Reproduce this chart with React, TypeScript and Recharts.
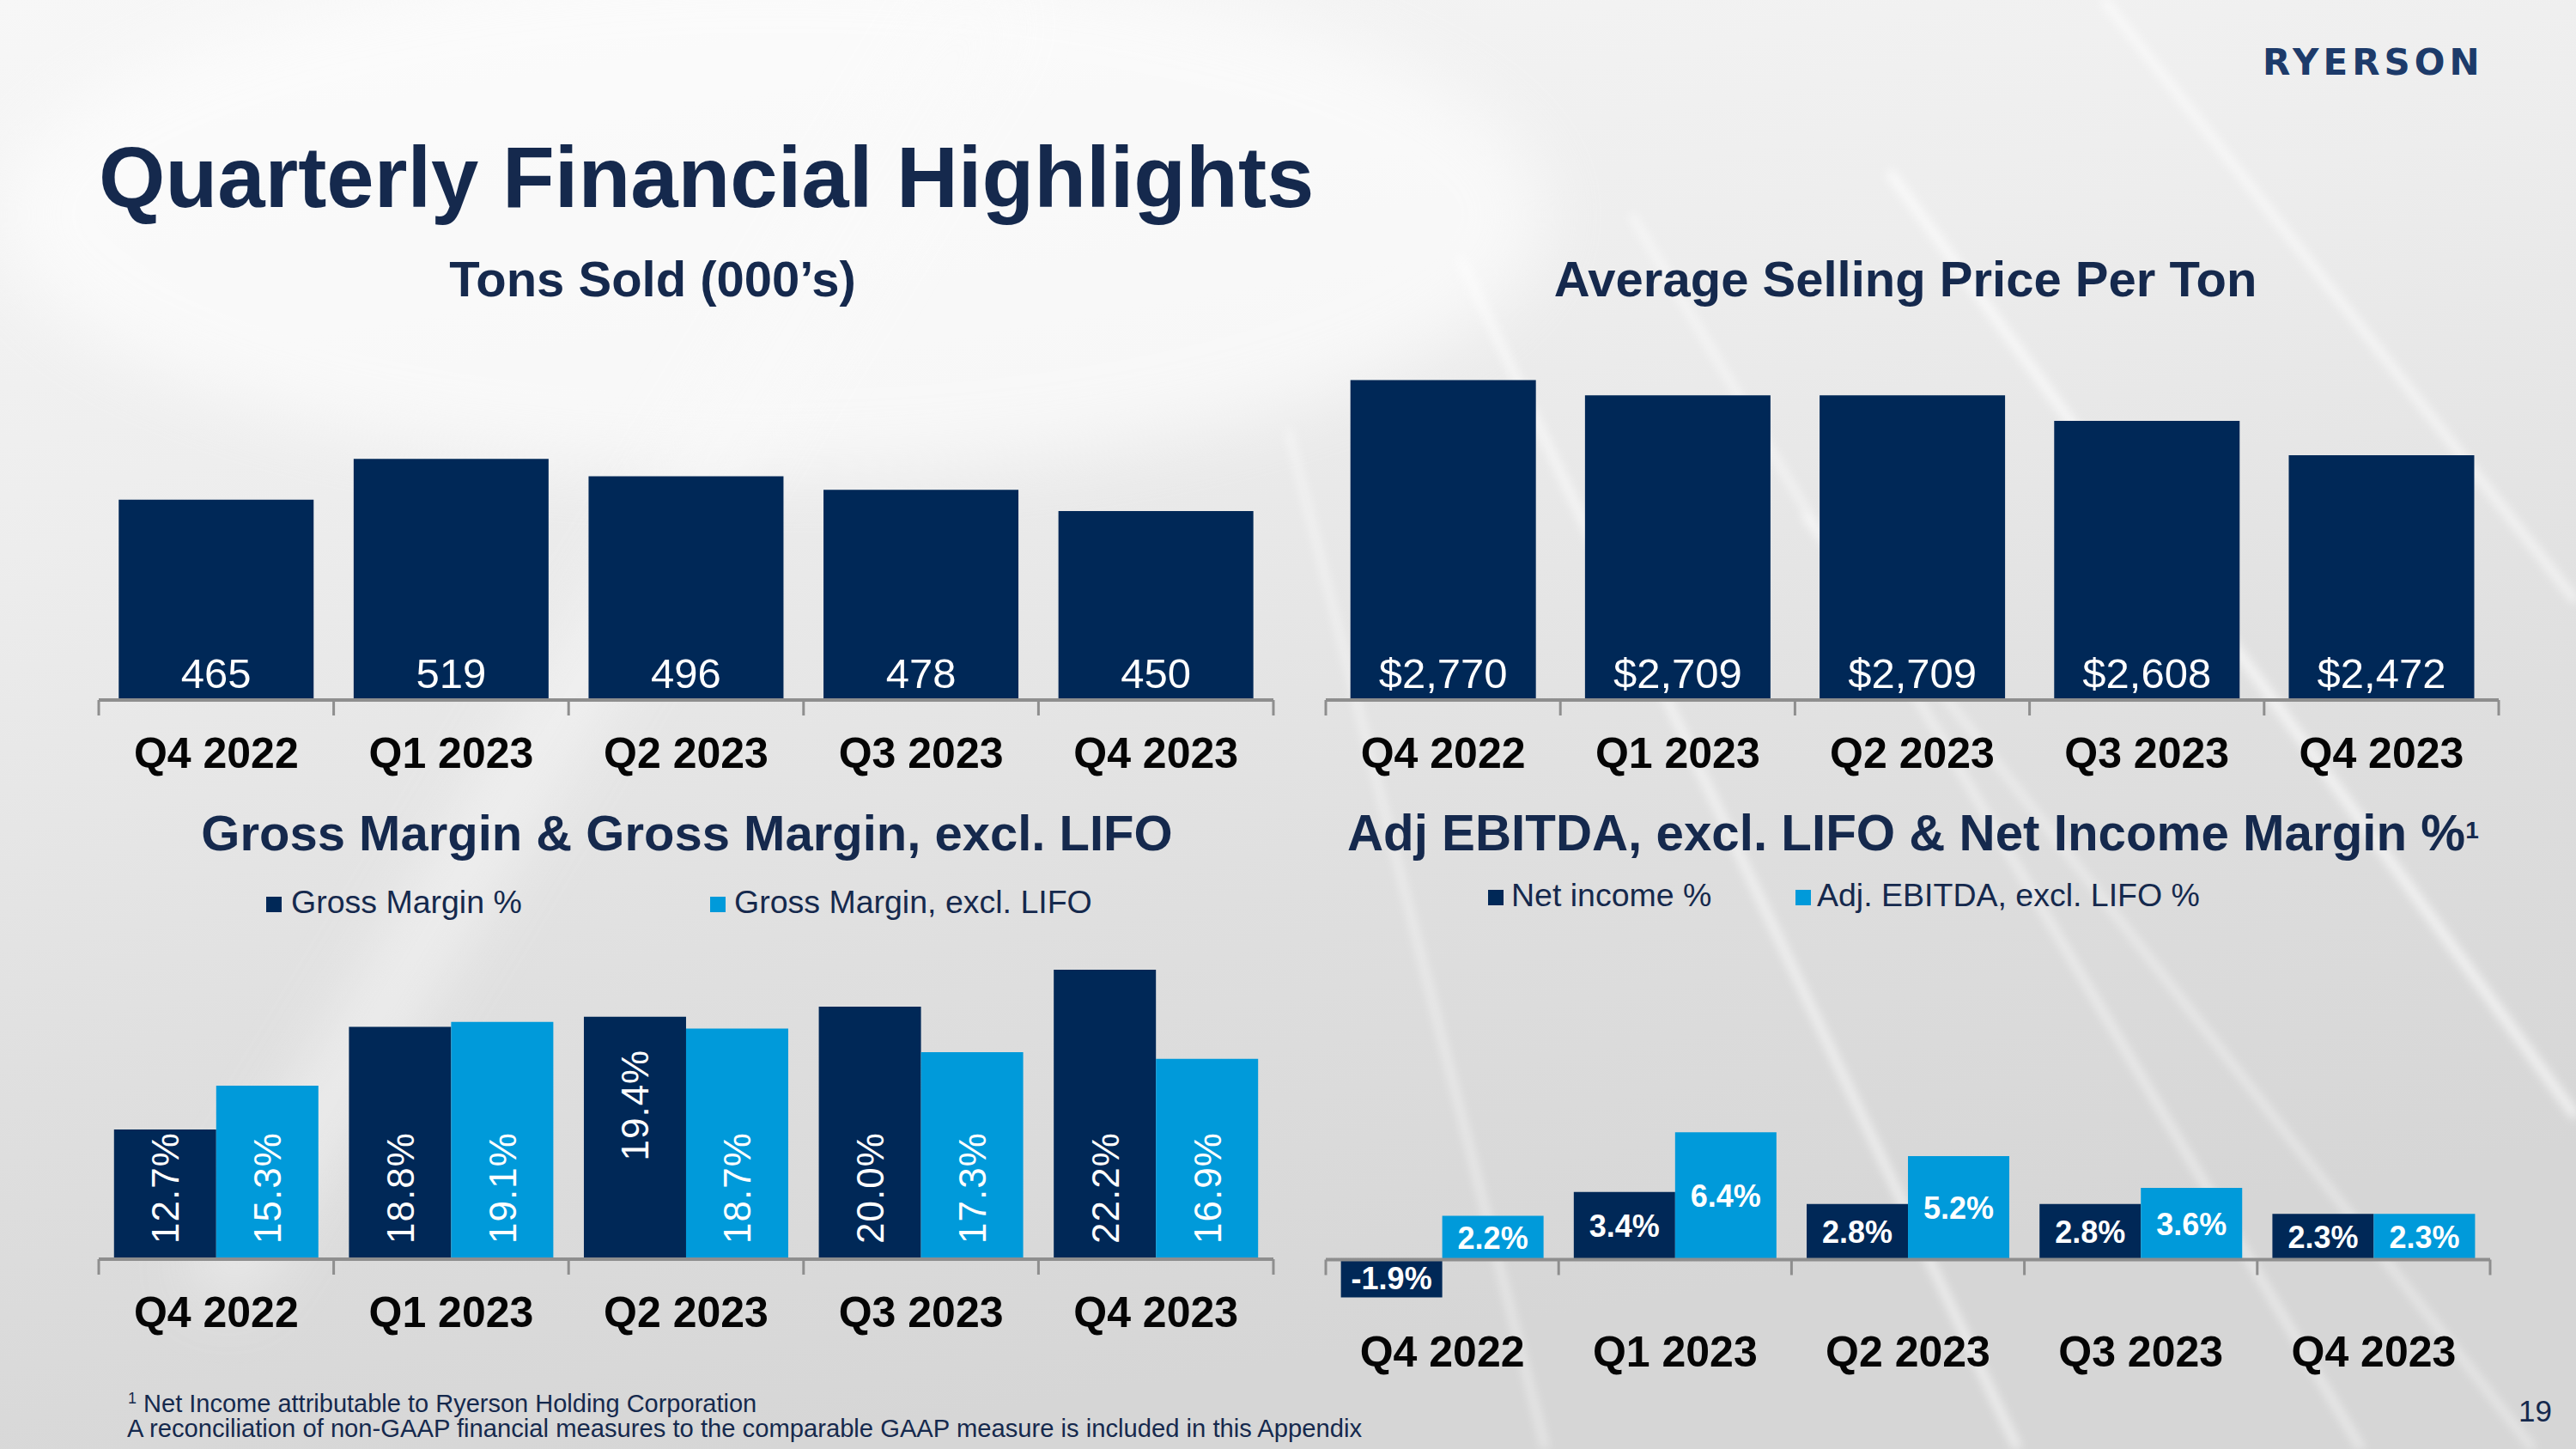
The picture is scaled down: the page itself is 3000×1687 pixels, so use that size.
import React from 'react';
import { BarChart, Bar, XAxis, YAxis, ReferenceLine, LabelList } from 'recharts';

const quarters = ['Q4 2022', 'Q1 2023', 'Q2 2023', 'Q3 2023', 'Q4 2023'];
const tonsSold = [465, 519, 496, 478, 450];
const avgSellingPrice = [2770, 2709, 2709, 2608, 2472];
const grossMargin = [12.7, 18.8, 19.4, 20.0, 22.2];
const grossMarginExLifo = [15.3, 19.1, 18.7, 17.3, 16.9];
const netIncome = [-1.9, 3.4, 2.8, 2.8, 2.3];
const adjEbitdaExLifo = [2.2, 6.4, 5.2, 3.6, 2.3];

const NAVY = '#002857';
const BLUE = '#009ADA';
const TEXT_NAVY = '#15294D';
const AXIS = '#8E8E8E';
const FONT = '"Liberation Sans", Arial, Helvetica, sans-serif';

const tonsData = quarters.map((q, i) => ({ quarter: q, tons: tonsSold[i] }));
const priceData = quarters.map((q, i) => ({ quarter: q, price: avgSellingPrice[i] }));
const marginData = quarters.map((q, i) => ({ quarter: q, gm: grossMargin[i], gmLifo: grossMarginExLifo[i] }));
const ebitdaData = quarters.map((q, i) => ({ quarter: q, net: netIncome[i], ebitda: adjEbitdaExLifo[i] }));

// axis line with Excel-style ticks between categories
const axisShape = (props: any) => {
  const { x1, y1, x2 } = props;
  const n = quarters.length;
  const step = (x2 - x1) / n;
  return (
    <g>
      <line x1={x1} y1={y1} x2={x2} y2={y1} stroke={AXIS} strokeWidth={4} />
      {Array.from({ length: n + 1 }, (_, i) => (
        <line key={i} x1={x1 + i * step} x2={x1 + i * step} y1={y1} y2={y1 + 18} stroke={AXIS} strokeWidth={3} />
      ))}
    </g>
  );
};

const quarterTick = (dy: number) => (props: any) => (
  <text x={props.x} y={props.y + dy} textAnchor="middle" fontFamily={FONT} fontWeight={700} fontSize={50} fill="#050505">
    {props.payload.value}
  </text>
);

const bottomLabel = (fmt: (v: number) => string) => (props: any) => {
  const vb = props.viewBox ?? props;
  const { x, y, width, height } = vb;
  return (
    <text x={x + width / 2} y={y + height - 14} textAnchor="middle" fill="#fff" fontFamily={FONT} fontSize={49}>
      {fmt(Number(props.value))}
    </text>
  );
};

// rotated labels; one label in the original sits at the top of its bar
const verticalLabel = (topIndex: number) => (props: any) => {
  const vb = props.viewBox ?? props;
  const { x, y, width, height } = vb;
  const cx = x + width / 2;
  const atTop = props.index === topIndex;
  const ty = atTop ? y + 38 : y + height - 18;
  return (
    <text
      transform={`rotate(-90 ${cx} ${ty})`}
      x={cx}
      y={ty}
      dy="0.36em"
      textAnchor={atTop ? 'end' : 'start'}
      fill="#fff"
      fontFamily={FONT}
      fontSize={44}
      letterSpacing={1}
    >
      {Number(props.value).toFixed(1)}%
    </text>
  );
};

const Txt = ({ x, baseline, size, weight = 400, color = TEXT_NAVY, anchor = 'start', children, style, font = FONT }: any) => (
  <div
    style={{
      position: 'absolute',
      left: x,
      top: baseline - size * 0.8465,
      transform: anchor === 'middle' ? 'translateX(-50%)' : undefined,
      fontSize: size,
      lineHeight: `${size}px`,
      fontWeight: weight,
      color,
      whiteSpace: 'nowrap',
      fontFamily: font,
      ...style,
    }}
  >
    {children}
  </div>
);

const Swatch = ({ x, y, color }: any) => (
  <div style={{ position: 'absolute', left: x, top: y, width: 18, height: 18, background: color }} />
);

const Background = () => (
  <svg width={3000} height={1687} style={{ position: 'absolute', left: 0, top: 0 }}>
    <defs>
      <linearGradient id="bg" x1="0" y1="0" x2="0.3" y2="1">
        <stop offset="0%" stopColor="#f7f7f7" />
        <stop offset="35%" stopColor="#ededed" />
        <stop offset="70%" stopColor="#dfdfdf" />
        <stop offset="100%" stopColor="#d6d6d6" />
      </linearGradient>
      <filter id="blur" x="-20%" y="-20%" width="140%" height="140%">
        <feGaussianBlur stdDeviation="6" />
      </filter>
      <filter id="blurBig" x="-20%" y="-20%" width="140%" height="140%">
        <feGaussianBlur stdDeviation="40" />
      </filter>
    </defs>
    <rect width={3000} height={1687} fill="url(#bg)" />
    <ellipse cx={900} cy={250} rx={900} ry={300} fill="#ffffff" opacity={0.6} filter="url(#blurBig)" />
    <path d="M1150 0 L250 1500" stroke="#fafafa" strokeWidth={60} opacity={0.7} filter="url(#blurBig)" />
    <g filter="url(#blur)" opacity={0.75} stroke="#ffffff" fill="none">
      <path d="M1700 300 L2350 1687" strokeWidth={8} />
      <path d="M1900 250 L2750 1687" strokeWidth={6} />
      <path d="M2200 200 L3000 1300" strokeWidth={10} />
      <path d="M2450 0 L3000 700" strokeWidth={8} />
      <path d="M1500 500 L1800 1687" strokeWidth={5} />
      <path d="M2100 600 L2950 1687" strokeWidth={5} />
    </g>
  </svg>
);

const App: React.FC = () => {
  return (
    <div style={{ position: 'absolute', left: 0, top: 0, width: 3000, height: 1687, overflow: 'hidden', fontFamily: FONT }}>
      <Background />

      <Txt x={115} baseline={241} size={99.5} weight={700}>Quarterly Financial Highlights</Txt>
      <Txt x={2635} baseline={88} size={42} weight={700} color="#1D3B6A" font='"DejaVu Sans", sans-serif' style={{ letterSpacing: 5 }}>RYERSON</Txt>

      <Txt x={760} baseline={345} size={58} weight={700} anchor="middle">Tons Sold (000’s)</Txt>
      <Txt x={2219} baseline={345} size={58} weight={700} anchor="middle">Average Selling Price Per Ton</Txt>
      <Txt x={800} baseline={990} size={58} weight={700} anchor="middle">Gross Margin &amp; Gross Margin, excl. LIFO</Txt>
      <Txt x={1569} baseline={987} size={58.3} weight={700}>
        Adj EBITDA, excl. LIFO &amp; Net Income Margin %
        <span style={{ fontSize: 28, verticalAlign: 14 }}>1</span>
      </Txt>

      {/* legends */}
      <Swatch x={310} y={1044} color={NAVY} />
      <Txt x={339} baseline={1064} size={37.5}>Gross Margin %</Txt>
      <Swatch x={827} y={1044} color={BLUE} />
      <Txt x={855} baseline={1064} size={37.5}>Gross Margin, excl. LIFO</Txt>
      <Swatch x={1733} y={1036} color={NAVY} />
      <Txt x={1760} baseline={1056} size={37.5}>Net income %</Txt>
      <Swatch x={2091} y={1036} color={BLUE} />
      <Txt x={2116} baseline={1056} size={37.5}>Adj. EBITDA, excl. LIFO %</Txt>

      {/* Tons sold */}
      <div style={{ position: 'absolute', left: 111, top: 463 }}>
        <BarChart width={1376} height={452} data={tonsData} margin={{ top: 0, right: 4, bottom: 0, left: 4 }} barCategoryGap="8.5%">
          <XAxis dataKey="quarter" axisLine={false} tickLine={false} tickSize={0} tickMargin={0} height={100} interval={0} tick={quarterTick(79)} />
          <YAxis hide type="number" domain={[200, 600]} />
          <Bar dataKey="tons" fill={NAVY} isAnimationActive={false}>
            <LabelList dataKey="tons" content={bottomLabel((v) => String(v))} />
          </Bar>
          <ReferenceLine y={200} shape={axisShape} />
        </BarChart>
      </div>

      {/* Average selling price */}
      <div style={{ position: 'absolute', left: 1540, top: 375 }}>
        <BarChart width={1374} height={540} data={priceData} margin={{ top: 0, right: 4, bottom: 0, left: 4 }} barCategoryGap="10.5%">
          <XAxis dataKey="quarter" axisLine={false} tickLine={false} tickSize={0} tickMargin={0} height={100} interval={0} tick={quarterTick(79)} />
          <YAxis hide type="number" domain={[1500, 3000]} />
          <Bar dataKey="price" fill={NAVY} isAnimationActive={false}>
            <LabelList dataKey="price" content={bottomLabel((v) => '$' + v.toLocaleString('en-US'))} />
          </Bar>
          <ReferenceLine y={1500} shape={axisShape} />
        </BarChart>
      </div>

      {/* Gross margin */}
      <div style={{ position: 'absolute', left: 111, top: 1074 }}>
        <BarChart width={1376} height={492} data={marginData} margin={{ top: 0, right: 4, bottom: 0, left: 4 }} barCategoryGap="6.5%" barGap={0}>
          <XAxis dataKey="quarter" axisLine={false} tickLine={false} tickSize={0} tickMargin={0} height={100} interval={0} tick={quarterTick(79)} />
          <YAxis hide type="number" domain={[5, 25]} />
          <Bar dataKey="gm" fill={NAVY} isAnimationActive={false}>
            <LabelList dataKey="gm" content={verticalLabel(2)} />
          </Bar>
          <Bar dataKey="gmLifo" fill={BLUE} isAnimationActive={false}>
            <LabelList dataKey="gmLifo" content={verticalLabel(-1)} />
          </Bar>
          <ReferenceLine y={5} shape={axisShape} />
        </BarChart>
      </div>

      {/* Adj EBITDA & net income margin */}
      <div style={{ position: 'absolute', left: 1540, top: 1258 }}>
        <BarChart width={1364} height={378} data={ebitdaData} margin={{ top: 0, right: 4, bottom: 0, left: 4 }} barCategoryGap="6.5%" barGap={0}>
          <XAxis dataKey="quarter" axisLine={false} tickLine={false} tickSize={0} tickMargin={0} height={100} interval={0} tick={quarterTick(55)} />
          <YAxis hide type="number" domain={[-3, 9]} />
          <Bar dataKey="net" fill={NAVY} isAnimationActive={false}>
            <LabelList dataKey="net" position="center" fill="#fff" fontFamily={FONT} fontWeight={700} fontSize={36} formatter={(v: any) => `${Number(v).toFixed(1)}%`} />
          </Bar>
          <Bar dataKey="ebitda" fill={BLUE} isAnimationActive={false}>
            <LabelList dataKey="ebitda" position="center" fill="#fff" fontFamily={FONT} fontWeight={700} fontSize={36} formatter={(v: any) => `${Number(v).toFixed(1)}%`} />
          </Bar>
          <ReferenceLine y={0} shape={axisShape} />
        </BarChart>
      </div>

      {/* footnotes */}
      <Txt x={149} baseline={1639} size={29}>
        <span style={{ fontSize: 18, verticalAlign: 10 }}>1</span> Net Income attributable to Ryerson Holding Corporation
      </Txt>
      <Txt x={148} baseline={1674} size={29.2}>
        A reconciliation of non-GAAP financial measures to the comparable GAAP measure is included in this Appendix
      </Txt>
      <Txt x={2933} baseline={1655} size={35}>19</Txt>
    </div>
  );
};

export default App;
